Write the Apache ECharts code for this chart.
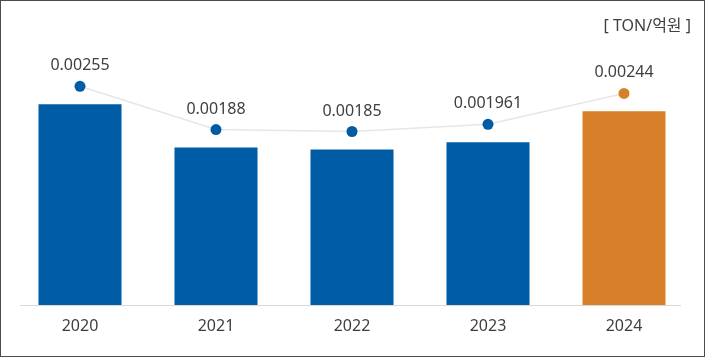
<!DOCTYPE html>
<html><head><meta charset="utf-8">
<script src="https://cdn.jsdelivr.net/npm/echarts@6/dist/echarts.min.js"></script>
<style>
html,body{margin:0;padding:0;background:#fff;}
#c{position:absolute;left:0;top:0;width:705px;height:357px;}
#frame{position:absolute;left:0;top:0;width:705px;height:357px;box-sizing:border-box;border:1px solid #4a4a4a;pointer-events:none;}
</style></head>
<body><div id="c"></div><div id="frame"></div>
<script>
const categories = ['2020', '2021', '2022', '2023', '2024'];
const values = [0.00255, 0.00188, 0.00185, 0.001961, 0.00244];
const unitLabel = '[ TON/억원 ]';

const BLUE = '#005CA5', ORANGE = '#D88029', TXT = '#404040';
const FONT = '"Noto Sans", "Noto Sans CJK KR", sans-serif';
const hi = categories.length - 1;
const colorOf = i => (i === hi ? ORANGE : BLUE);

const chart = echarts.init(document.getElementById('c'), null, {renderer: 'canvas'});
const yMin = -0.00056, yMax = 0.003544, shift = 0.000277;
const BAR_W = 83;
chart.setOption({
  animation: false,
  grid: {left: 12, right: 13, top: 40, bottom: 52},
  xAxis: {
    type: 'category', data: categories,
    axisLine: {show: false}, axisTick: {show: false},
    axisLabel: {color: TXT, fontSize: 16, fontFamily: FONT, margin: 13}
  },
  yAxis: [
    {type: 'value', min: yMin, max: yMax, show: false},
    {type: 'value', min: yMin - shift, max: yMax - shift, show: false}
  ],
  graphic: [
    {type: 'line', shape: {x1: 20, y1: 305.5, x2: 681, y2: 305.5}, style: {stroke: '#d9d9d9', lineWidth: 1}, z: 0},
    {type: 'text', right: 14, top: 18, style: {text: unitLabel, fill: TXT, font: '16px ' + FONT}}
  ],
  series: [
    {
      type: 'custom', yAxisIndex: 0,
      data: values.map((v, i) => [i, v]),
      encode: {x: 0, y: 1},
      renderItem: function (params, api) {
        const top = api.coord([api.value(0), api.value(1)]);
        const base = api.coord([api.value(0), yMin]);
        return {
          type: 'rect',
          shape: {x: top[0] - BAR_W / 2, y: top[1], width: BAR_W, height: base[1] - top[1]},
          style: {fill: colorOf(params.dataIndex)}
        };
      }
    },
    {
      type: 'line', yAxisIndex: 1, symbol: 'circle', symbolSize: 11,
      lineStyle: {color: '#e6e6e6', width: 1.5},
      data: values.map((v, i) => ({value: v, itemStyle: {color: colorOf(i)}})),
      label: {show: true, position: 'top', distance: 7, color: TXT, fontSize: 16, fontFamily: FONT,
        formatter: p => String(values[p.dataIndex])}
    }
  ]
});
</script></body></html>
